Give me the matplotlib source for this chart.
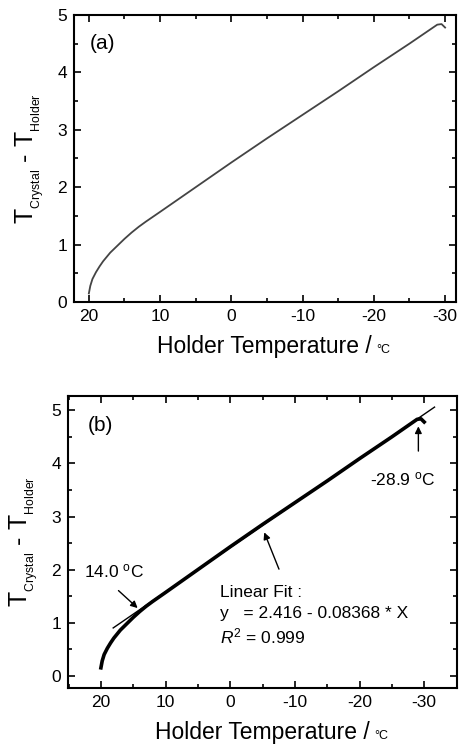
import numpy as np
import matplotlib
matplotlib.use('Agg')
import matplotlib.pyplot as plt
from matplotlib.ticker import MultipleLocator

plt.rcParams['font.family'] = ['Liberation Sans', 'DejaVu Sans']
plt.rcParams['mathtext.fontset'] = 'custom'
plt.rcParams['mathtext.rm'] = 'Liberation Sans'
plt.rcParams['mathtext.it'] = 'Liberation Sans:italic'
plt.rcParams['mathtext.bf'] = 'Liberation Sans:bold'

# Holder temperature (degC) and crystal - holder difference
holder_temp = [20.0, 19.8, 19.5, 19.0, 18.5, 18.0, 17.0, 16.0, 15.0, 14.0, 13.0, 12.0,
               10.0, 5.0, 0.0, -5.0, -10.0, -15.0, -20.0, -25.0, -28.9, -29.5, -30.0]
temp_diff = [0.15, 0.28, 0.40, 0.52, 0.62, 0.71, 0.86, 0.98, 1.10, 1.21, 1.31, 1.40,
             1.57, 2.00, 2.43, 2.85, 3.26, 3.67, 4.09, 4.50, 4.83, 4.84, 4.78]

# linear fit from the annotation
fit_a = 2.416
fit_b = -0.08368
fit_x = [18.1, -31.6]

xticks = [20, 10, 0, -10, -20, -30]
yticks = [0, 1, 2, 3, 4, 5]

xlabel = 'Holder Temperature /'
ylabel = 'T$\\mathregular{{}_{{}_{Crystal}}}$ - T$\\mathregular{{}_{{}_{Holder}}}$'


def style_axes(ax):
    ax.xaxis.set_major_locator(MultipleLocator(10))
    ax.xaxis.set_minor_locator(MultipleLocator(5))
    ax.yaxis.set_major_locator(MultipleLocator(1))
    ax.yaxis.set_minor_locator(MultipleLocator(0.5))
    ax.tick_params(which='both', direction='in', top=True, right=True, width=1.2)
    ax.tick_params(which='major', length=5, labelsize=12.5, pad=5)
    ax.tick_params(which='minor', length=3)
    for s in ax.spines.values():
        s.set_linewidth(1.5)
    ax.set_xticks(xticks)
    ax.set_xticklabels([str(t) for t in xticks])
    ax.set_yticks(yticks)
    ax.set_xlabel(xlabel, fontsize=16.5, labelpad=8)
    ax.set_ylabel(ylabel, fontsize=18, labelpad=8)
    # small degree-C unit after the axis label, on its baseline
    ax.annotate('°C', xy=(1, 0), xycoords=ax.xaxis.label, xytext=(3, 3.6),
                textcoords='offset points', fontsize=9, va='baseline', ha='left')


fig = plt.figure(figsize=(4.59, 7.45), dpi=100)

# panel (a)
ax1 = fig.add_axes([0.161, 0.5946, 0.832, 0.3854])
ax1.plot(holder_temp, temp_diff, color='#444444', linewidth=1.3)
ax1.set_xlim(22.1, -31.5)
ax1.set_ylim(0, 5)
style_axes(ax1)
ax1.text(0.042, 0.9, '(a)', transform=ax1.transAxes, fontsize=15, va='center')

# panel (b)
ax2 = fig.add_axes([0.148, 0.0765, 0.848, 0.392])
ax2.plot(holder_temp, temp_diff, color='black', linewidth=2.6)
ax2.plot(fit_x, [fit_a + fit_b * x for x in fit_x], color='black', linewidth=1.0)
ax2.set_xlim(25.1, -35.1)
ax2.set_ylim(-0.23, 5.27)
style_axes(ax2)
ax2.text(0.05, 0.9, '(b)', transform=ax2.transAxes, fontsize=15, va='center')

arrow = dict(arrowstyle='-|>', color='black', lw=1.0, mutation_scale=10)
ax2.annotate('', xy=(14.0, 1.24), xytext=(17.6, 1.64), arrowprops=arrow)
ax2.text(22.6, 1.86, '14.0 $\\mathregular{^{o}}$C', fontsize=12.5, ha='left', va='baseline')
ax2.annotate('', xy=(-29.1, 4.75), xytext=(-29.1, 4.18), arrowprops=arrow)
ax2.text(-21.6, 3.59, '-28.9 $\\mathregular{^{o}}$C', fontsize=12.5, ha='left', va='baseline')
ax2.annotate('', xy=(-5.1, 2.75), xytext=(-7.7, 1.96), arrowprops=arrow)
ax2.text(1.6, 1.49, 'Linear Fit :', fontsize=12.5, ha='left', va='baseline')
ax2.text(1.6, 1.08, 'y   = 2.416 - 0.08368 * X', fontsize=12.5, ha='left', va='baseline')
ax2.text(1.6, 0.61, '$\\mathit{R}^{\\mathregular{2}}$ = 0.999', fontsize=12.5, ha='left', va='baseline')

fig.savefig('out.png', dpi=100)
